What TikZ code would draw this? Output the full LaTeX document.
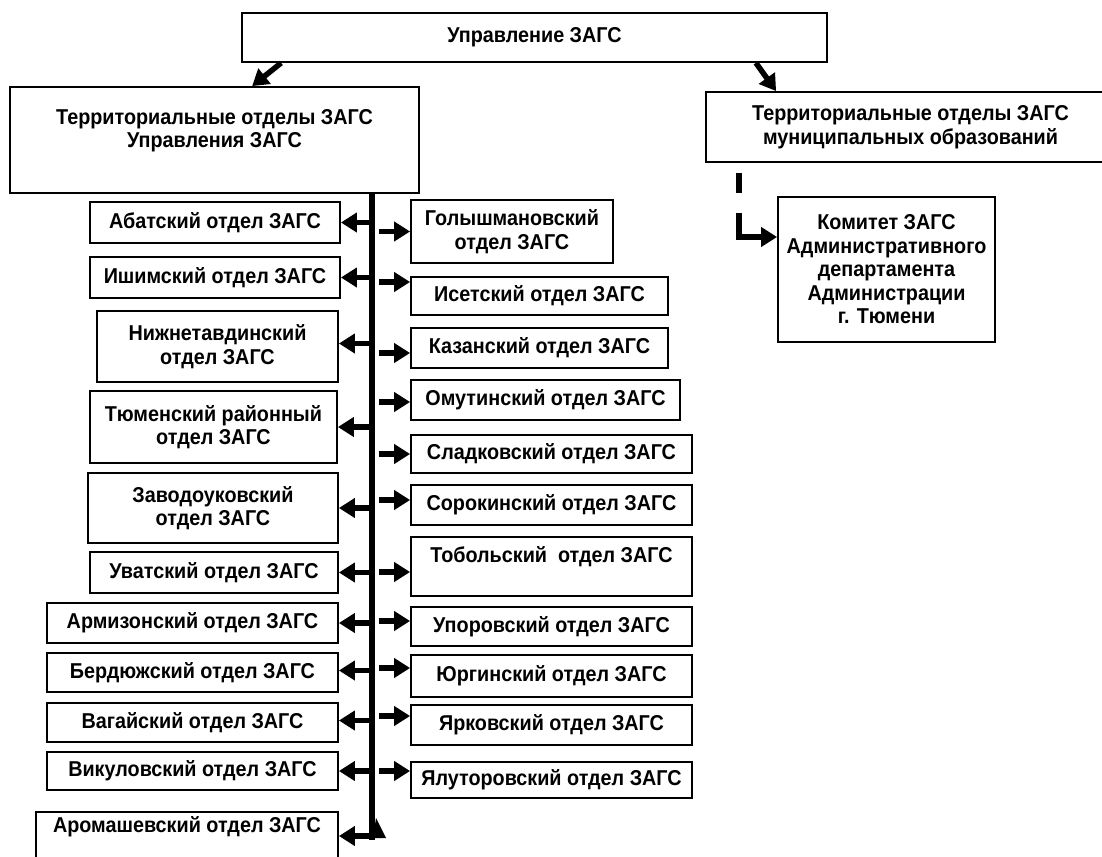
\documentclass[tikz,border=0pt]{standalone}
\usepackage{fontspec}
\setmainfont[FakeStretch=0.92]{Liberation Sans}
\usepackage{tikz}
\usetikzlibrary{arrows.meta}
\tikzset{
    x=1pt, y=-1pt, % one unit is one pixel of the scan, y grows downwards
    >={Triangle[length=16pt, width=19pt]}, % big solid arrow heads
    otdel/.style={draw, line width=1.8pt, inner sep=0pt, align=center,
        font=\bfseries\fontsize{21.5}{23.5}\selectfont}, % every box of the chart
    arr/.style={->, line width=5.5pt}, % thick arrows between the boxes
    trunk/.style={line width=5.5pt}, % the long vertical line
}

\begin{document}
\begin{tikzpicture}
    \useasboundingbox (0,0) rectangle (1102,856);
    \clip (0,0) rectangle (1102,856);
    % top level
    \node[otdel, minimum width=585pt, minimum height=49pt] (upr) at (534.5,37.5) {Управление ЗАГС};
    \node[otdel, minimum width=409pt, minimum height=106pt] (terl) at (214.5,140) {Территориальные отделы ЗАГС\\Управления ЗАГС\\ \mbox{}};
    \node[otdel, minimum width=409pt, minimum height=70pt] (mun) at (910.5,127) {Территориальные отделы ЗАГС\\муниципальных образований};
    \node[otdel, minimum width=217pt, minimum height=145pt] (kom) at (886.5,269.5) {Комитет ЗАГС\\Административного\\департамента\\Администрации\\г. Тюмени};
    % left column
    \node[otdel, minimum width=250pt, minimum height=41pt] (l1) at (215,222.5) {Абатский отдел ЗАГС};
    \node[otdel, minimum width=250pt, minimum height=41pt] (l2) at (215,277.5) {Ишимский отдел ЗАГС};
    \node[otdel, minimum width=241pt, minimum height=71pt] (l3) at (217.5,346.5) {Нижнетавдинский\\отдел ЗАГС};
    \node[otdel, minimum width=247pt, minimum height=72pt] (l4) at (213.5,427) {Тюменский районный\\отдел ЗАГС};
    \node[otdel, minimum width=250pt, minimum height=70pt] (l5) at (213,508) {Заводоуковский\\отдел ЗАГС};
    \node[otdel, minimum width=248pt, minimum height=41pt] (l6) at (214,572.5) {Уватский отдел ЗАГС};
    \node[otdel, minimum width=291pt, minimum height=40pt] (l7) at (192.5,623) {Армизонский отдел ЗАГС};
    \node[otdel, minimum width=291pt, minimum height=39pt] (l8) at (192.5,672.5) {Бердюжский отдел ЗАГС};
    \node[otdel, minimum width=291pt, minimum height=39pt] (l9) at (192.5,722.5) {Вагайский отдел ЗАГС};
    \node[otdel, minimum width=291pt, minimum height=38pt] (l10) at (192.5,771) {Викуловский отдел ЗАГС};
    \node[otdel, minimum width=302pt, minimum height=48pt] (l11) at (187,836) {Аромашевский отдел ЗАГС\\ \mbox{}};
    % right column
    \node[otdel, minimum width=202pt, minimum height=63pt] (r1) at (512,231.5) {Голышмановский\\отдел ЗАГС};
    \node[otdel, minimum width=257pt, minimum height=38pt] (r2) at (539.5,296) {Исетский отдел ЗАГС};
    \node[otdel, minimum width=257pt, minimum height=40pt] (r3) at (539.5,348) {Казанский отдел ЗАГС};
    \node[otdel, minimum width=269pt, minimum height=40pt] (r4) at (545.5,400) {Омутинский отдел ЗАГС};
    \node[otdel, minimum width=281pt, minimum height=38pt] (r5) at (551.5,454) {Сладковский отдел ЗАГС};
    \node[otdel, minimum width=281pt, minimum height=40pt] (r6) at (551.5,505) {Сорокинский отдел ЗАГС};
    \node[otdel, minimum width=281pt, minimum height=59pt] (r7) at (551.5,566.5) {Тобольский\ \ отдел ЗАГС\\ \mbox{}};
    \node[otdel, minimum width=281pt, minimum height=39pt] (r8) at (551.5,626.5) {Упоровский отдел ЗАГС};
    \node[otdel, minimum width=281pt, minimum height=42pt] (r9) at (551.5,676) {Юргинский отдел ЗАГС};
    \node[otdel, minimum width=281pt, minimum height=40pt] (r10) at (551.5,725) {Ярковский отдел ЗАГС};
    \node[otdel, minimum width=281pt, minimum height=36pt] (r11) at (551.5,780) {Ялуторовский отдел ЗАГС};
    \coordinate (tr) at (372,193);
    \coordinate (trend) at (372,840);
    \coordinate (trr) at (379,193);
    % arrows from the top box
    \draw[arr] (upr.south west) ++(40,0) -- ([xshift=243pt]terl.north west);
    \draw[arr] (upr.south east) ++(-72,0) -- ([xshift=71pt]mun.north west);
    \draw[line width=5.5pt] (mun.south west) ++(34,10) -- ++(0,20);
    \draw[arr] (mun.south west) ++(34,50) |- ([yshift=32.5pt]kom.west);
    % the trunk
    \draw[trunk] (tr) -- (trend);
    \fill (373,838) -- (386,838) -- (376,818) -- cycle;
    \draw[arr] (l1.east -| tr) -- (l1.east);
    \draw[arr] (l2.east -| tr) -- (l2.east);
    \draw[arr] ([yshift=3pt]l3.east -| tr) -- ([yshift=3pt]l3.east);
    \draw[arr] (l4.east -| tr) -- (l4.east);
    \draw[arr] (l5.east -| tr) -- (l5.east);
    \draw[arr] (l6.east -| tr) -- (l6.east);
    \draw[arr] (l7.east -| tr) -- (l7.east);
    \draw[arr] ([yshift=2pt]l8.east -| tr) -- ([yshift=2pt]l8.east);
    \draw[arr] ([yshift=2pt]l9.east -| tr) -- ([yshift=2pt]l9.east);
    \draw[arr] (l10.east -| tr) -- (l10.east);
    \draw[arr] (l11.east -| tr) -- (l11.east);
    \draw[arr] (r1.west -| trr) -- (r1.west);
    \draw[arr] ([yshift=14pt]r2.west -| trr) -- ([yshift=14pt]r2.west);
    \draw[arr] ([yshift=-5pt]r3.west -| trr) -- ([yshift=-5pt]r3.west);
    \draw[arr] ([yshift=-2pt]r4.west -| trr) -- ([yshift=-2pt]r4.west);
    \draw[arr] (r5.west -| trr) -- (r5.west);
    \draw[arr] ([yshift=5pt]r6.west -| trr) -- ([yshift=5pt]r6.west);
    \draw[arr] ([yshift=-5.5pt]r7.west -| trr) -- ([yshift=-5.5pt]r7.west);
    \draw[arr] ([yshift=5.5pt]r8.west -| trr) -- ([yshift=5.5pt]r8.west);
    \draw[arr] ([yshift=8pt]r9.west -| trr) -- ([yshift=8pt]r9.west);
    \draw[arr] ([yshift=9pt]r10.west -| trr) -- ([yshift=9pt]r10.west);
    \draw[arr] ([yshift=9pt]r11.west -| trr) -- ([yshift=9pt]r11.west);
\end{tikzpicture}
\end{document}
